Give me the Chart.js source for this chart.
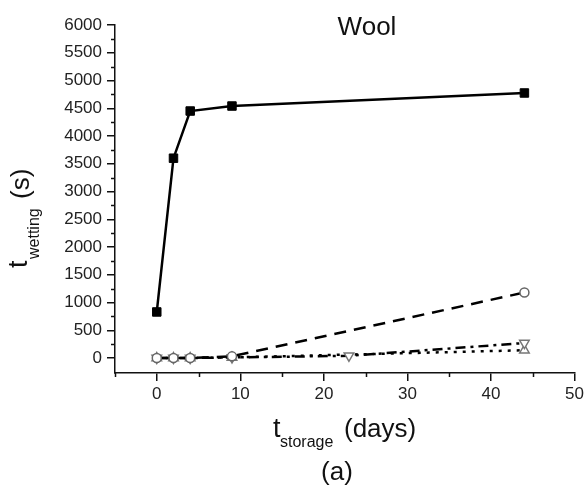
<!DOCTYPE html>
<html>
<head>
<meta charset="utf-8">
<script src="https://cdn.jsdelivr.net/npm/chart.js@4.4.1/dist/chart.umd.min.js"></script>
<style>
html,body{margin:0;padding:0;background:#fff;}
#wrap{width:587px;height:490px;position:relative;}
</style>
</head>
<body>
<div id="wrap"><canvas id="c" width="587" height="490"></canvas></div>
<script>
// ---- data ----
const xSquare = [0, 2, 4, 9, 44];
const ySquare = [830, 3600, 4450, 4540, 4775];
const xCircle = [0, 2, 4, 9, 44];
const yCircle = [0, 0, 0, 30, 1180];
const xDown = [0, 2, 4, 9, 23, 44];
const yDown = [0, 0, 0, 10, 40, 270];
const xUp = [0, 2, 4, 9, 44];
const yUp = [0, 0, 0, 10, 140];
const xTicks = [0, 10, 20, 30, 40, 50];
const yTicks = [0, 500, 1000, 1500, 2000, 2500, 3000, 3500, 4000, 4500, 5000, 5500, 6000];
const xMinor = [-5, 5, 15, 25, 35, 45];
const yMinor = [250, 750, 1250, 1750, 2250, 2750, 3250, 3750, 4250, 4750, 5250, 5750];
const titleText = 'Wool';
const panelText = '(a)';

const pts = (xs, ys) => xs.map((x, i) => ({x: x, y: ys[i]}));
const FONT = '"Liberation Sans", Arial, sans-serif';

const textPlugin = {
  id: 'texts',
  afterDraw(chart) {
    const ctx = chart.ctx;
    const xs = chart.scales.x, ys = chart.scales.y;
    ctx.save();
    // minor ticks
    ctx.strokeStyle = '#111';
    ctx.lineWidth = 1.5;
    ctx.beginPath();
    const bottom = chart.chartArea.bottom, left = chart.chartArea.left;
    xMinor.forEach(v => { const p = Math.round(xs.getPixelForValue(v)) + 0.5; ctx.moveTo(p, bottom); ctx.lineTo(p, bottom + 4); });
    yMinor.forEach(v => { const p = Math.round(ys.getPixelForValue(v)) + 0.5; ctx.moveTo(left, p); ctx.lineTo(left - 4, p); });
    ctx.stroke();

    ctx.fillStyle = '#111';
    ctx.textBaseline = 'alphabetic';
    // title
    ctx.font = '26px ' + FONT;
    ctx.textAlign = 'center';
    ctx.fillText(titleText, 367, 35);
    // panel label
    ctx.fillText(panelText, 337, 480);
    // x title
    ctx.textAlign = 'left';
    ctx.font = '27px ' + FONT;
    ctx.fillText('t', 273, 437);
    ctx.font = '16px ' + FONT;
    ctx.fillText('storage', 280, 447);
    ctx.font = '26px ' + FONT;
    ctx.fillText('(days)', 344, 437);
    // y title
    ctx.rotate(-Math.PI / 2);
    ctx.font = '27px ' + FONT;
    ctx.fillText('t', -268, 27);
    ctx.font = '16px ' + FONT;
    ctx.fillText('wetting', -259, 39);
    ctx.font = '26px ' + FONT;
    ctx.fillText('(s)', -199, 29);
    ctx.restore();
  }
};

new Chart(document.getElementById('c'), {
  type: 'scatter',
  data: {
    datasets: [
      {
        data: pts(xSquare, ySquare), showLine: true,
        borderColor: '#000', borderWidth: 2.5,
        pointStyle: 'rect', pointRadius: 6, pointBackgroundColor: '#000', pointBorderColor: '#000', pointBorderWidth: 1
      },
      {
        data: pts(xCircle, yCircle), showLine: true,
        borderColor: '#000', borderWidth: 2.5, borderDash: [12, 8],
        pointStyle: 'circle', pointRadius: 4.5, pointBackgroundColor: '#fff', pointBorderColor: '#666', pointBorderWidth: 1.5
      },
      {
        data: pts(xDown, yDown), showLine: true,
        borderColor: '#000', borderWidth: 2.5, borderDash: [10, 5, 3, 5],
        pointStyle: 'triangle', pointRotation: 180, pointRadius: 5.5, pointBackgroundColor: '#fff', pointBorderColor: '#777', pointBorderWidth: 1.5
      },
      {
        data: pts(xUp, yUp), showLine: true,
        borderColor: '#000', borderWidth: 2.5, borderDash: [3, 6],
        pointStyle: 'triangle', pointRadius: 5.5, pointBackgroundColor: '#fff', pointBorderColor: '#777', pointBorderWidth: 1.5
      }
    ]
  },
  options: {
    responsive: false,
    animation: false,
    events: [],
    layout: { padding: { top: 25, right: 12, left: 0, bottom: 0 } },
    plugins: { legend: { display: false }, tooltip: { enabled: false }, title: { display: false } },
    elements: { line: { tension: 0 } },
    scales: {
      x: {
        type: 'linear', min: -5, max: 50,
        afterBuildTicks: s => { s.ticks = xTicks.map(v => ({ value: v })); },
        afterFit: s => { s.height = 117; },
        border: { display: true, color: '#111', width: 1.5 },
        grid: { display: true, drawOnChartArea: false, drawTicks: true, tickLength: 8, tickColor: '#111', lineWidth: 1.5 },
        ticks: { color: '#222', font: { family: FONT, size: 17 }, padding: 3, maxRotation: 0, autoSkip: false, callback: v => String(v) }
      },
      y: {
        type: 'linear', min: -270, max: 6000,
        afterBuildTicks: s => { s.ticks = yTicks.map(v => ({ value: v })); },
        afterFit: s => { s.width = 115; },
        border: { display: true, color: '#111', width: 1.5 },
        grid: { display: true, drawOnChartArea: false, drawTicks: true, tickLength: 8, tickColor: '#111', lineWidth: 1.5 },
        ticks: { color: '#222', font: { family: FONT, size: 17 }, padding: 5, autoSkip: false, callback: v => String(v) }
      }
    }
  },
  plugins: [textPlugin]
});
</script>
</body>
</html>
